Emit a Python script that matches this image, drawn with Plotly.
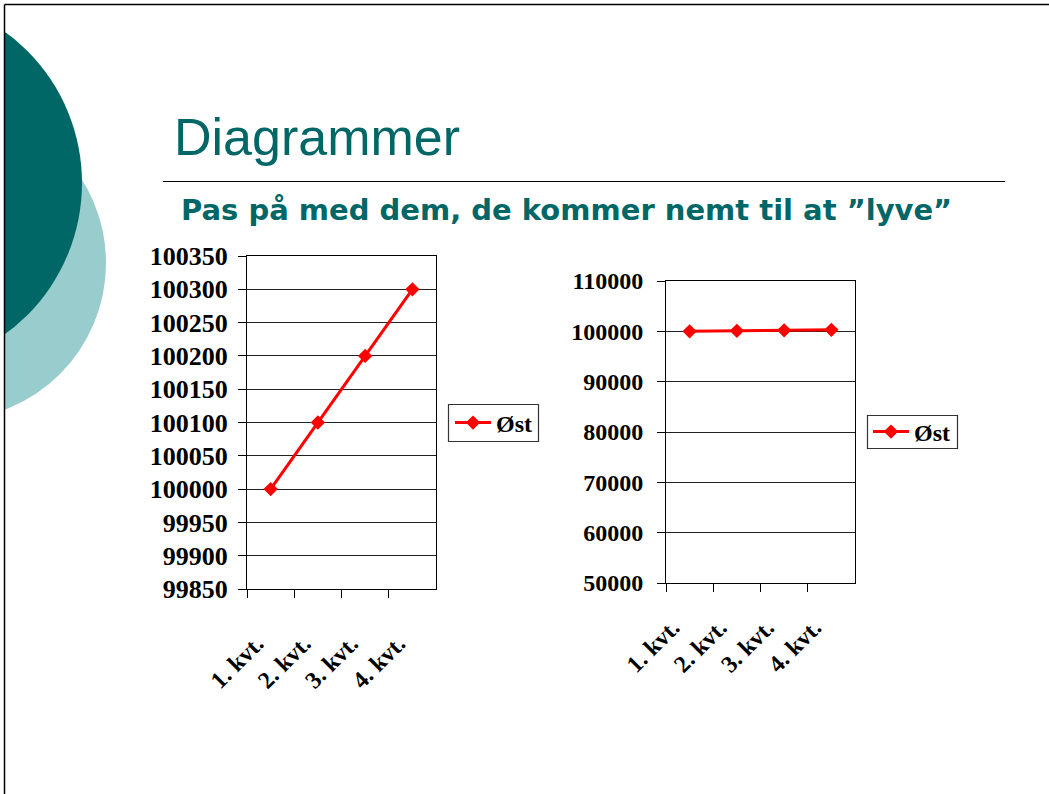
import plotly.graph_objects as go

W, H = 1049, 794

def fx(x):
    return x / W

def fy(y):
    return 1 - y / H

# ---- data ----
quarters = ["1. kvt.", "2. kvt.", "3. kvt.", "4. kvt."]
ost = [100000, 100100, 100200, 100300]
series_name = "Øst"
left_range = [99850, 100350]
left_dtick = 50
right_range = [50000, 110000]
right_dtick = 10000
title_text = "Diagrammer"
subtitle_text = "Pas på med dem, de kommer nemt til at \u201dlyve\u201d"

RED = "#FF0000"
TEAL = "#006666"
LIGHT = "#99CCCC"

fig = go.Figure()
fig.add_trace(go.Scatter(
    x=quarters, y=ost, mode="lines+markers", name=series_name,
    line=dict(color=RED, width=3),
    marker=dict(symbol="diamond", size=11, color=RED),
    xaxis="x", yaxis="y", legend="legend"))
fig.add_trace(go.Scatter(
    x=quarters, y=ost, mode="lines+markers", name=series_name,
    line=dict(color=RED, width=3),
    marker=dict(symbol="diamond", size=11, color=RED),
    xaxis="x2", yaxis="y2", legend="legend2"))

serif = "Liberation Serif"

def xax(domain, size, standoff, shift):
    return dict(domain=domain, type="category", range=[-0.5, 3.5],
                showline=True, linecolor="black", linewidth=1, mirror=True,
                ticks="outside", tickson="boundaries", ticklen=8,
                tickcolor="black", showgrid=False, tickangle=-45,
                ticklabelstandoff=standoff, ticklabelshift=shift,
                automargin=False,
                tickfont=dict(family=serif, size=size, color="black", weight="bold"),
                fixedrange=True)

def yax(domain, rng, dtick, size, anchor, standoff):
    return dict(domain=domain, range=rng, dtick=dtick, tick0=rng[0],
                anchor=anchor, tickformat="d", automargin=False,
                showline=True, linecolor="black", linewidth=1, mirror=True,
                ticks="outside", ticklen=8, tickcolor="black",
                showgrid=True, gridcolor="#222222", gridwidth=1,
                zeroline=False, ticklabelstandoff=standoff,
                tickfont=dict(family=serif, size=size, color="black", weight="bold"),
                fixedrange=True)

legend_font = dict(family=serif, size=24, color="black", weight="bold")

fig.update_layout(
    width=W, height=H,
    margin=dict(l=0, r=0, t=0, b=0, pad=0, autoexpand=False),
    paper_bgcolor="white", plot_bgcolor="white",
    xaxis=xax([fx(247), fx(436)], 24, 30, -14) | dict(anchor="y"),
    yaxis=yax([fy(589), fy(256)], left_range, left_dtick, 26, "x", 5),
    xaxis2=xax([fx(666), fx(855)], 24, 20, -17) | dict(anchor="y2"),
    yaxis2=yax([fy(583), fy(281)], right_range, right_dtick, 24, "x2", 9),
    legend=dict(x=fx(450), y=fy(423), xanchor="left", yanchor="middle",
                borderwidth=0, bgcolor="rgba(0,0,0,0)", itemwidth=36,
                font=legend_font),
    legend2=dict(x=fx(868), y=fy(432), xanchor="left", yanchor="middle",
                 borderwidth=0, bgcolor="rgba(0,0,0,0)", itemwidth=36,
                 font=legend_font),
    showlegend=True,
)

shapes = [
    # light teal circle
    dict(type="circle", xref="paper", yref="paper", layer="below",
         x0=fx(-51 - 157), x1=fx(-51 + 157), y0=fy(263 - 157), y1=fy(263 + 157),
         fillcolor=LIGHT, line=dict(width=0)),
    # dark teal circle
    dict(type="circle", xref="paper", yref="paper", layer="below",
         x0=fx(-105 - 187), x1=fx(-105 + 187), y0=fy(183 - 187), y1=fy(183 + 187),
         fillcolor=TEAL, line=dict(width=0)),
    # white area outside slide
    dict(type="rect", xref="paper", yref="paper", layer="below",
         x0=fx(-20), x1=fx(4), y0=fy(820), y1=fy(-20),
         fillcolor="white", line=dict(width=0)),
    dict(type="rect", xref="paper", yref="paper", layer="below",
         x0=fx(-20), x1=fx(1070), y0=fy(4), y1=fy(-20),
         fillcolor="white", line=dict(width=0)),
    # slide border
    dict(type="line", xref="paper", yref="paper", layer="above",
         x0=fx(4.5), x1=fx(1060), y0=fy(4.5), y1=fy(4.5),
         line=dict(color="black", width=1.5)),
    dict(type="line", xref="paper", yref="paper", layer="above",
         x0=fx(4.5), x1=fx(4.5), y0=fy(4.5), y1=fy(800),
         line=dict(color="black", width=1.5)),
    # rule under title
    dict(type="line", xref="paper", yref="paper", layer="above",
         x0=fx(163), x1=fx(1005), y0=fy(181.5), y1=fy(181.5),
         line=dict(color="black", width=1.2)),
    # legend frames
    dict(type="rect", xref="paper", yref="paper", layer="above",
         x0=fx(448.5), x1=fx(538.5), y0=fy(441.5), y1=fy(404.5),
         line=dict(color="#333333", width=1.2)),
    dict(type="rect", xref="paper", yref="paper", layer="above",
         x0=fx(867.5), x1=fx(957.5), y0=fy(448.5), y1=fy(415.5),
         line=dict(color="#333333", width=1.2)),
]
fig.update_layout(shapes=shapes)

fig.add_annotation(text=title_text, xref="paper", yref="paper",
                   x=fx(172), y=fy(137), xanchor="left", yanchor="middle",
                   showarrow=False,
                   font=dict(family="Liberation Sans", size=52, color=TEAL))
fig.add_annotation(text=subtitle_text, xref="paper", yref="paper",
                   x=fx(179), y=fy(210), xanchor="left", yanchor="middle",
                   showarrow=False,
                   font=dict(family="DejaVu Sans", size=29, color=TEAL, weight="bold"))

fig.write_html("out.html", config={"displayModeBar": False},
               post_script="document.body.style.margin='0';")
